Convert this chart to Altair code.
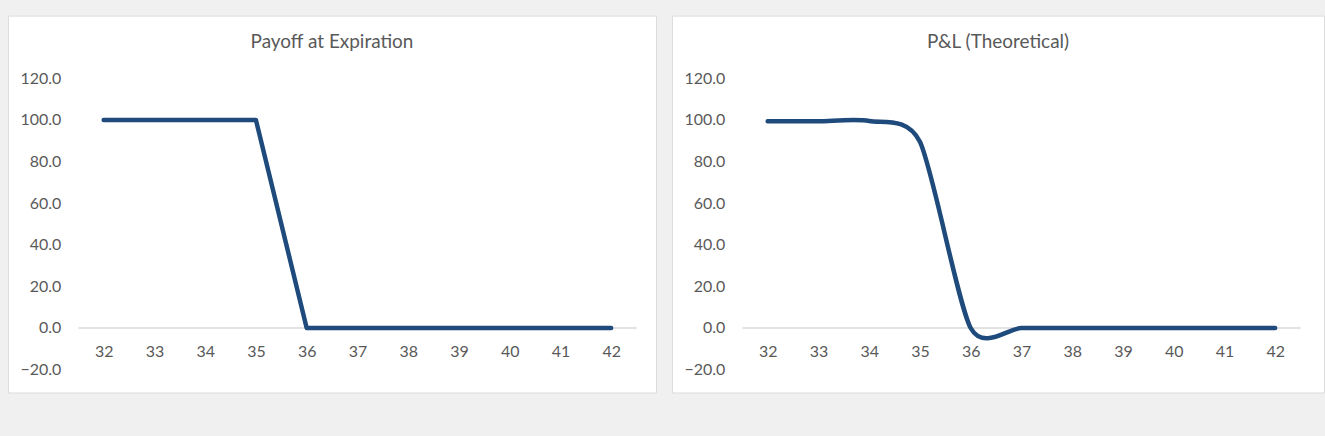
import altair as alt
import pandas as pd

# ---- data ----
prices = [32, 33, 34, 35, 36, 37, 38, 39, 40, 41, 42]
payoff = [100.0, 100.0, 100.0, 100.0, 0.0, 0.0, 0.0, 0.0, 0.0, 0.0, 0.0]
pnl = [99.4, 99.4, 99.5, 89.5, 0.0, 0.0, 0.0, 0.0, 0.0, 0.0, 0.0]
y_ticks = [-20, 0, 20, 40, 60, 80, 100, 120]
titles = ["Payoff at Expiration", "P&L (Theoretical)"]

# ---- layout ----
FONT = "Lato"
TXT = "#595959"
LINE = "#1f4a7c"
PANEL_H = 378
PX_X = 50.9          # pixels per category
X0 = 96              # pixel of first category inside panel
Y_TOP, Y_BOT = 63, 355
YMIN_T, YMAX_T = min(y_ticks), max(y_ticks)
PPU = (Y_BOT - Y_TOP) / (YMAX_T - YMIN_T)
Y_DOM = [YMIN_T - (PANEL_H - Y_BOT) / PPU, YMAX_T + Y_TOP / PPU]
ZERO_FROM_BOTTOM = (0 - Y_DOM[0]) * PPU


def panel(values, title, width, smooth):
    df = pd.DataFrame({"price": prices, "value": values})
    x_dom = [prices[0] - X0 / PX_X, prices[0] + (width - X0) / PX_X]
    xs = alt.Scale(domain=x_dom, nice=False, zero=False)
    ys = alt.Scale(domain=Y_DOM, nice=False, zero=False)

    rule_df = pd.DataFrame({"x1": [prices[0] - 0.5], "x2": [prices[-1] + 0.5], "y": [0]})
    base_rule = alt.Chart(rule_df).mark_rule(color="#d9d9d9", strokeWidth=1.5).encode(
        x=alt.X("x1:Q", scale=xs,
                axis=alt.Axis(values=prices, format="d", title=None, grid=False,
                              domain=False, ticks=False, tickSize=0,
                              labelPadding=16, offset=-ZERO_FROM_BOTTOM,
                              labelFont=FONT, labelFontSize=16, labelColor=TXT)),
        x2="x2:Q",
        y=alt.Y("y:Q", scale=ys,
                axis=alt.Axis(values=y_ticks, format=".1f", title=None, grid=False,
                              domain=False, ticks=False, tickSize=0,
                              labelPadding=0, offset=-53, labelAlign="right",
                              labelFont=FONT, labelFontSize=16, labelColor=TXT)),
    )
    mk = dict(color=LINE, strokeWidth=4.5, strokeCap="round", strokeJoin="round")
    if smooth:
        mk.update(interpolate="cardinal", tension=0.25)
    line = alt.Chart(df).mark_line(**mk).encode(
        x=alt.X("price:Q", scale=xs),
        y=alt.Y("value:Q", scale=ys),
    )
    return alt.layer(base_rule, line).properties(
        width=width, height=PANEL_H,
        title=alt.TitleParams(title, offset=-45, baseline="middle", font=FONT,
                              fontSize=19, fontWeight="normal", color=TXT, anchor="middle"),
    )


left = panel(payoff, titles[0], 650, False)
right = panel(pnl, titles[1], 654, True)

chart = alt.hconcat(left, right, spacing=14).properties(
    background="#f0f0f0",
    padding={"left": 7, "top": 14, "right": 0, "bottom": 44},
).configure_view(fill="white", stroke="#dcdcdc", strokeWidth=1)

chart.save("out.html", embed_options={"renderer": "svg", "actions": False})
